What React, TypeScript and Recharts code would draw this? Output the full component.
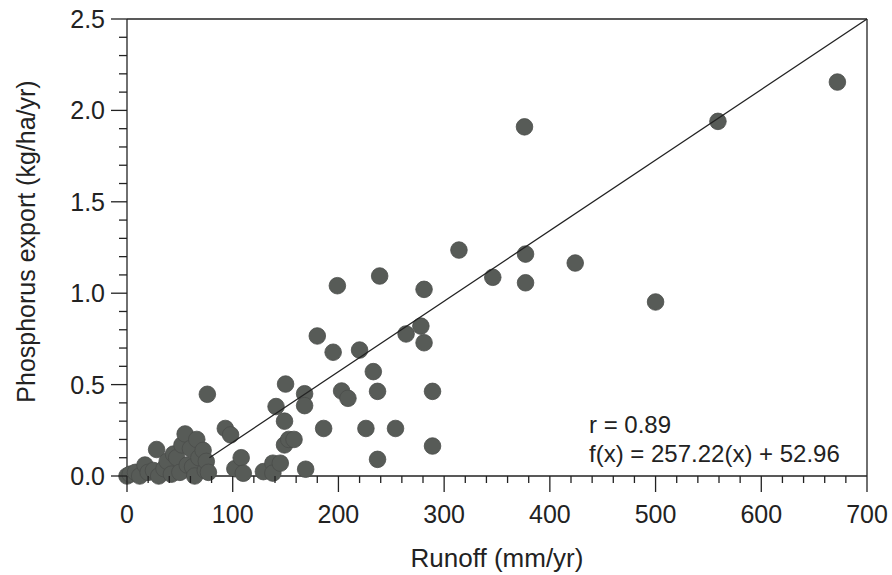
import { Label, ReferenceLine, Scatter, ScatterChart, XAxis, YAxis } from "recharts";

// runoff (mm/yr) vs phosphorus export (kg/ha/yr)
const runoff = [
  0, 3, 8, 12, 17, 20, 25, 28, 30, 35, 38, 42, 44, 47, 50, 52, 55, 57, 60, 62, 64, 66, 68, 72, 74, 75, 77, 76,
  93, 98, 102, 108, 110, 129, 138, 138, 141, 145, 149, 150, 149, 153, 158, 168, 168, 169, 180, 186, 195, 199,
  203, 209, 220, 226, 233, 237, 237, 239, 254, 264, 278, 281, 281, 289, 289, 314, 346, 376, 377, 377, 424, 500,
  559, 672,
];
const phosphorus = [
  0, 0.01, 0.02, 0, 0.06, 0.02, 0.03, 0.145, 0, 0.04, 0.08, 0.01, 0.12, 0.1, 0.02, 0.17, 0.23, 0.06, 0.15, 0.05,
  0, 0.2, 0.1, 0.14, 0.03, 0.08, 0.02, 0.447,
  0.26, 0.225, 0.04, 0.1, 0.015, 0.024, 0.07, 0.016, 0.38, 0.07, 0.3, 0.503, 0.17, 0.2, 0.2, 0.45, 0.385, 0.037,
  0.766, 0.26, 0.677, 1.041, 0.465, 0.425, 0.689, 0.26, 0.571, 0.463, 0.091, 1.094, 0.26, 0.777, 0.82, 0.729,
  1.021, 0.463, 0.164, 1.236, 1.087, 1.91, 1.214, 1.057, 1.165, 0.952, 1.94, 2.155,
];

// regression line end points
const fitX = [78, 700];
const fitY = [0.1, 2.5];

const xTicks = [
  0, 20, 40, 60, 80, 100, 120, 140, 160, 180, 200, 220, 240, 260, 280, 300, 320, 340, 360, 380, 400, 420, 440,
  460, 480, 500, 520, 540, 560, 580, 600, 620, 640, 660, 680, 700,
];
const yTicks = [
  0, 0.1, 0.2, 0.3, 0.4, 0.5, 0.6, 0.7, 0.8, 0.9, 1.0, 1.1, 1.2, 1.3, 1.4, 1.5, 1.6, 1.7, 1.8, 1.9, 2.0, 2.1, 2.2,
  2.3, 2.4, 2.5,
];

const points = runoff.map((x, i) => ({ x, y: phosphorus[i] }));
const fit = fitX.map((x, i) => ({ x, y: fitY[i] }));

const FONT = "'Liberation Sans', Arial, sans-serif";
const INK = "#222";

function XTick({ x, y, payload }: any) {
  const major = payload.value % 100 === 0;
  return (
    <g>
      <line x1={x} x2={x} y1={y} y2={y + (major ? 16 : 7)} stroke={INK} strokeWidth={1.3} />
      {major && (
        <text x={x} y={y + 47} textAnchor="middle" fontSize={25} fontFamily={FONT} fill={INK}>
          {payload.value}
        </text>
      )}
    </g>
  );
}

function YTick({ x, y, payload }: any) {
  const major = Math.abs(payload.value * 2 - Math.round(payload.value * 2)) < 1e-6;
  return (
    <g>
      <line x1={x - (major ? 16 : 8)} x2={x} y1={y} y2={y} stroke={INK} strokeWidth={1.3} />
      {major && (
        <text x={x - 22} y={y + 9} textAnchor="end" fontSize={25} fontFamily={FONT} fill={INK}>
          {payload.value.toFixed(1)}
        </text>
      )}
    </g>
  );
}

const Dot = ({ cx, cy }: any) => <circle cx={cx} cy={cy} r={8.3} fill="#575b57" stroke="#4a4d4a" strokeWidth={0.8} />;

export default function App() {
  return (
    <div style={{ position: "absolute", left: 0, top: 0, background: "#fff" }}>
      <ScatterChart width={892} height={575} margin={{ top: 19, right: 25, bottom: 0, left: 0 }}>
        <XAxis
          type="number"
          dataKey="x"
          domain={[0, 700]}
          ticks={xTicks}
          interval={0}
          height={99}
          tickSize={0}
          tickMargin={0}
          tick={<XTick />}
          axisLine={{ stroke: INK, strokeWidth: 1.3 }}
        >
          <Label
            content={({ viewBox }: any) => (
              <text
                x={viewBox.x + viewBox.width / 2}
                y={viewBox.y + 91}
                textAnchor="middle"
                fontSize={26}
                fontFamily={FONT}
                fill={INK}
              >
                Runoff (mm/yr)
              </text>
            )}
          />
        </XAxis>
        <YAxis
          type="number"
          dataKey="y"
          domain={[0, 2.5]}
          ticks={yTicks}
          interval={0}
          width={127}
          tickSize={0}
          tickMargin={0}
          tick={<YTick />}
          axisLine={{ stroke: INK, strokeWidth: 1.3 }}
        >
          <Label
            content={({ viewBox }: any) => (
              <text
                transform={`translate(35, ${viewBox.y + viewBox.height / 2 - 6}) rotate(-90)`}
                textAnchor="middle"
                fontSize={25}
                fontFamily={FONT}
                fill={INK}
              >
                Phosphorus export (kg/ha/yr)
              </text>
            )}
          />
        </YAxis>
        <ReferenceLine y={2.5} stroke={INK} strokeWidth={1.3} />
        <ReferenceLine x={700} stroke={INK} strokeWidth={1.3} />
        <Scatter data={points} shape={<Dot />} isAnimationActive={false} />
        <Scatter
          data={fit}
          line={{ stroke: INK, strokeWidth: 1.3 }}
          shape={() => <g />}
          isAnimationActive={false}
        />
        <text x={589} y={433} fontSize={24} fontFamily={FONT} fill={INK}>
          r = 0.89
        </text>
        <text x={589} y={462} fontSize={24} fontFamily={FONT} fill={INK}>
          f(x) = 257.22(x) + 52.96
        </text>
      </ScatterChart>
    </div>
  );
}
